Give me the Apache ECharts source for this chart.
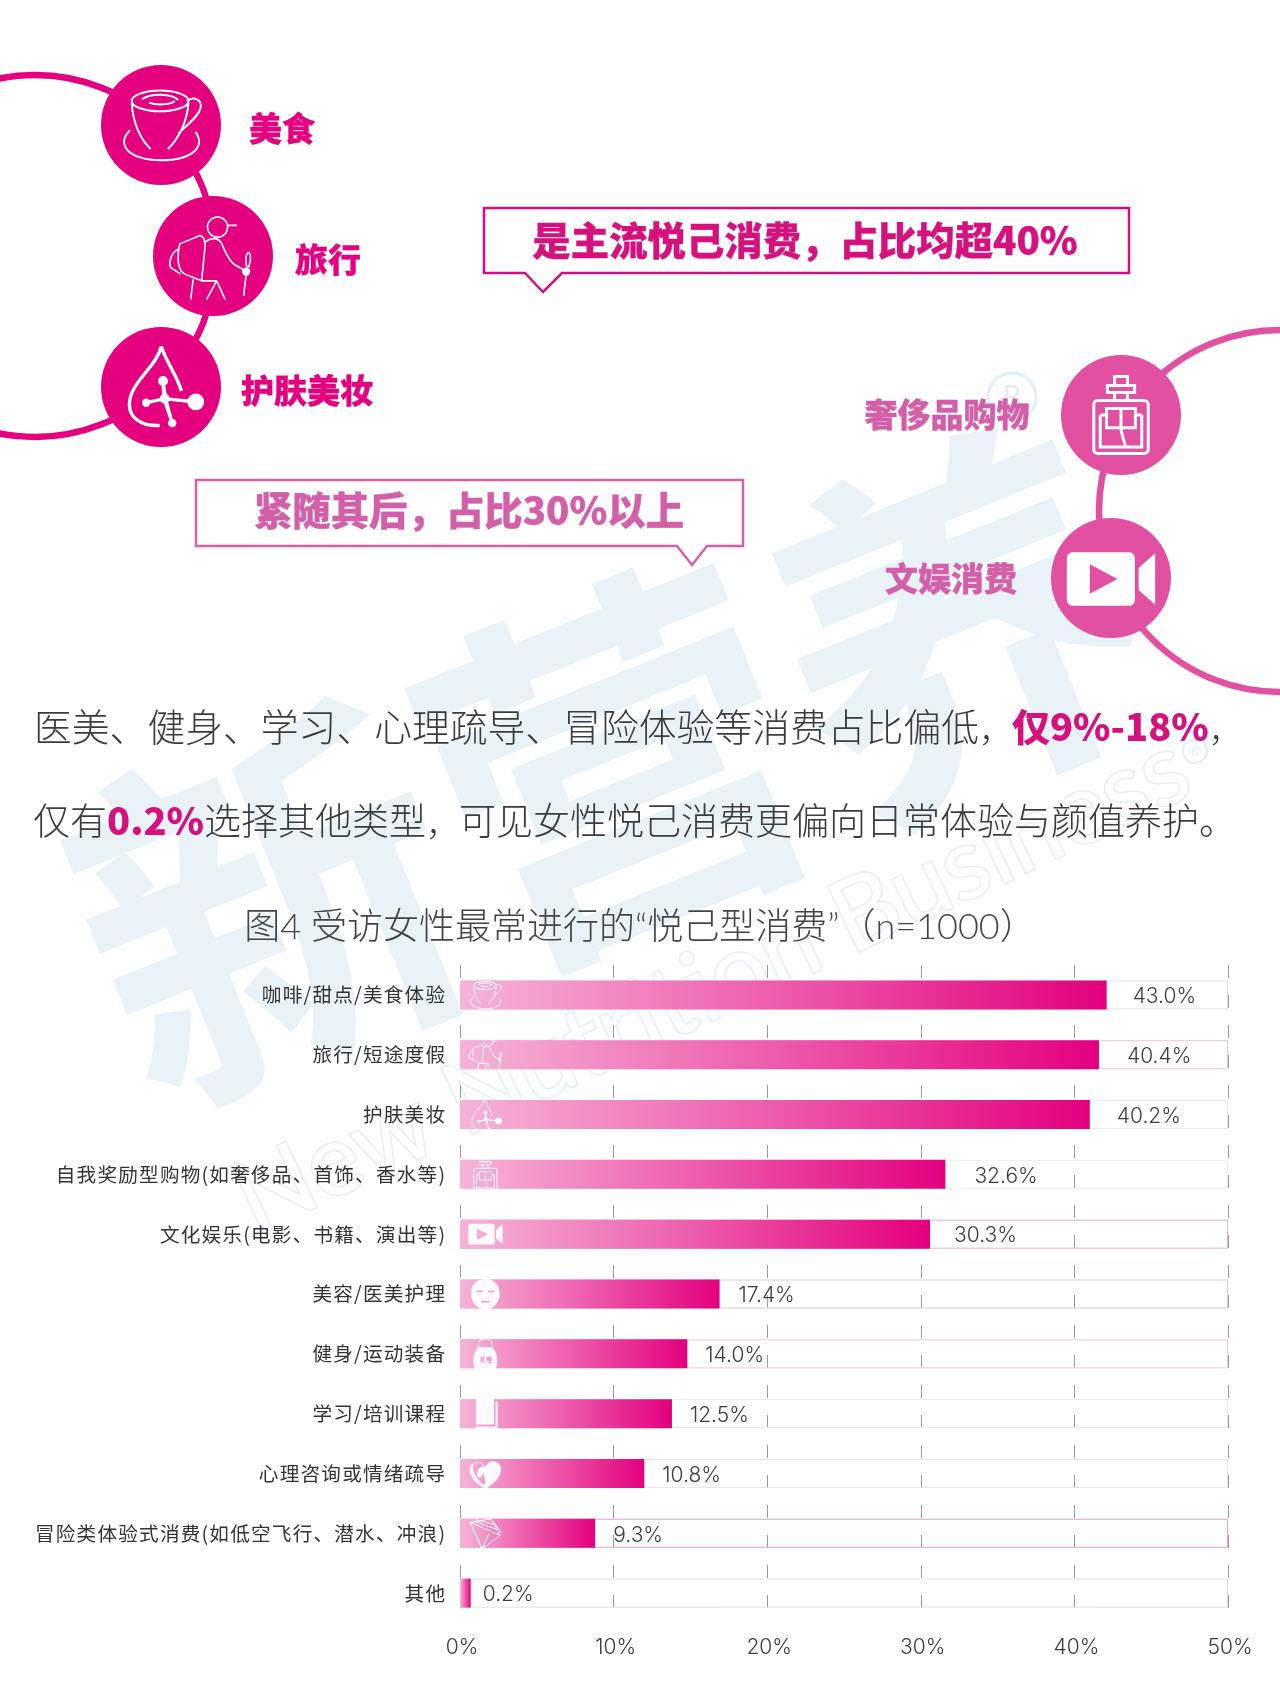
<!DOCTYPE html>
<html><head><meta charset="utf-8">
<style>html,body{margin:0;padding:0;background:#fff}#c{width:1280px;height:1706px}</style>
<script src="https://cdn.jsdelivr.net/npm/echarts@6/dist/echarts.min.js"></script>
</head><body><div id="c"></div>
<script>
// ---------- data ----------
const categories = ['咖啡/甜点/美食体验','旅行/短途度假','护肤美妆','自我奖励型购物(如奢侈品、首饰、香水等)','文化娱乐(电影、书籍、演出等)','美容/医美护理','健身/运动装备','学习/培训课程','心理咨询或情绪疏导','冒险类体验式消费(如低空飞行、潜水、冲浪)','其他'];
// the numbers printed beside each bar
const printedLabels = ['43.0%','40.4%','40.2%','32.6%','30.3%','17.4%','14.0%','12.5%','10.8%','9.3%','0.2%'];
// where each bar actually ends when read against the reference's axis (the picture's bars are not exactly at their printed value)
const barLengths = [42.1,41.6,41.0,31.6,30.6,16.9,14.8,13.8,12.0,8.8,0.7];
const trackValue = 50;
const axisTicks = [0,10,20,30,40,50];
const rowIconIds = ['cup','hiker','drop','perfume','video','mask','kettle','book','heart','fan',null];

// ---------- style lists ----------
const labelGaps = [26,28,27,29,24,19,18,18,18,18,12];
const trackColors = ['#e8dde6','#e6c8df','#eee8ed','#f0ecf0','#dcb6d2','#e0c8da','#e8d2e2','#ece4ea','#ece4ea','#dfa6cc','#e6dce4'];
const PINK='#e4007f', ROSE='#e250a2', ROSE_TEXT='#d35fa8', WM='#e9f2f7';
const SANS='"Noto Sans CJK SC"', LATIN='Inter,"Noto Sans CJK SC"';

// icon drawings on a 100x100 box (decoration, not data)
const BOX='M0 0L0 0M100 100L100 100';
const ICONS={
 cup:{line:'M16 22a33 12 0 1 0 66 0a33 12 0 1 0-66 0M28 20c10-7 34-7 42 1M36 24c8 3 24 3 30-2M16 24C17 48 27 68 38 78M82 24C80 48 70 66 58 78M80 22c9-6 18-1 16 8c-2 10-16 20-26 30M14 56C-2 72 10 90 50 91C88 91 102 74 90 58',fill:''},
 hiker:{line:'M47 12a12 12 0 1 0 24 0a12 12 0 1 0-24 0M70 10H82M14 32L38 22C44 24 44 30 44 36L40 76L20 68C12 64 10 50 14 32ZM13 38C3 42 1 54 3 60L15 68M44 30C52 24 60 24 64 32C68 42 74 52 78 56L92 64M30 74L27 98M40 76L58 76M58 76L46 98M58 76L68 98M96 42C92 44 92 54 94 60L90 94M96 42C100 46 98 54 96 60',fill:'M88 65a5 5 0 1 1 10 0a5 5 0 1 1-10 0Z'},
 drop:{line:'M48 3C42 28 10 46 10 72C10 88 24 98 46 97M48 3C54 22 66 36 72 56',fill:'M44 44a6 6 0 1 1 12 0a6 6 0 1 1-12 0ZM25 70a5 5 0 1 1 10 0a5 5 0 1 1-10 0ZM79 69a10 10 0 1 1 20 0a10 10 0 1 1-20 0ZM56 94a5 5 0 1 1 10 0a5 5 0 1 1-10 0ZM46 65a6 6 0 1 1 12 0a6 6 0 1 1-12 0ZM49 65L48 44L52 44L55 65ZM52 63L52 67L30 72L30 68ZM52 63L89 67L89 71L52 67ZM49 65L55 65L63 94L59 94Z'},
 perfume:{line:'M42 2H58V13H42ZM33 13H67V22H33ZM42 22V32M58 22V32M21 32H79a5 5 0 0 1 5 5V93a5 5 0 0 1-5 5H21a5 5 0 0 1-5-5V37a5 5 0 0 1 5-5ZM24 50V90H76V50M32 42H68V66H32ZM50 42V66C50 74 54 82 56 90M24 50H32M68 50H76',fill:''},
 video:{line:'',fill:'M8 21H70a6 6 0 0 1 6 6V73a6 6 0 0 1-6 6H8a6 6 0 0 1-6-6V27a6 6 0 0 1 6-6ZM27 34V66L57 50ZM80 38L98 22V78L80 62Z'},
 mask:{line:'',fill:'M50 6C78 6 92 24 92 50C92 76 74 95 50 95C26 95 8 76 8 50C8 24 22 6 50 6ZM24 40V45H42V40ZM58 40V45H76V40ZM38 70V75H62V70Z'},
 kettle:{line:'M30 34C26 14 36 6 50 6C64 6 74 14 70 34',fill:'M30 30H70C82 42 88 60 84 86C82 94 78 96 72 96H28C22 96 18 94 16 86C12 60 18 42 30 30ZM36 58V76H40V70L46 76H51L44 68L50 58H45L40 65V58ZM58 58C52 58 52 72 58 72H64V75H56V78H68V58Z'},
 book:{line:'',fill:'M22 4H76V82H22ZM80 14H86V96H22V88H80ZM28 88H78V92H28Z'},
 heart:{line:'M12 30C16 14 40 12 48 32M26 60l12 0l6-14l8 26l6-14l14 0',fill:'M50 30C58 10 90 8 96 32C100 58 76 82 50 96C24 82 0 58 4 32C6 26 10 22 14 20C8 40 22 66 46 84L52 72L44 46L36 58H26C24 40 34 26 50 30Z'},
 fan:{line:'M6 18L66 8L94 56L40 96ZM6 18L94 56M22 10L80 26M14 14L88 40M40 96L60 52M6 18L40 96M72 14L98 50',fill:''}
};
const withBox=p=>BOX+p;
const rowIcon=(kind)=>categories.map((c,i)=>{
  const ic=rowIconIds[i]&&ICONS[rowIconIds[i]];
  if(!ic||!ic[kind])return null;
  return {value:[1.65,i],symbol:'path://'+withBox(ic[kind]),symbolSize:i===4?36:34};
}).filter(Boolean);

// large decorative icons sit on a hidden page-sized grid: id, x, y, size, stroke
const bigIcons=[['cup',161,125,86,2],['hiker',210,259,84,1.6],['drop',163,386,84,3.4],['perfume',1121,415,80,3],['video',1111,579,92,0]];
const bigIcon=(kind)=>bigIcons.filter(b=>ICONS[b[0]][kind]).map(b=>({value:[b[1],b[2]],symbol:'path://'+withBox(ICONS[b[0]][kind]),symbolSize:b[3],
  itemStyle:kind==='line'?{borderWidth:b[4]}:undefined}));

// ---------- decoration built with the graphic component ----------
const T=(text,x,y,size,color,weight,extra)=>Object.assign({type:'text',x,y,silent:true,
  style:{text,fontSize:size,fontFamily:SANS,fontWeight:weight||400,fill:color,stroke:color,lineWidth:0.35,align:'center',verticalAlign:'middle'}},extra||{});
const disc=(cx,cy,color)=>({type:'circle',z:3,shape:{cx,cy,r:60},style:{fill:color}});
const ring=(cx,cy,color)=>({type:'circle',z:2,shape:{cx,cy,r:181},style:{fill:'none',stroke:color,lineWidth:6.5}});
const callout=(pts,color)=>({type:'polygon',z:2,shape:{points:pts},style:{fill:'rgba(255,255,255,0)',stroke:color,lineWidth:2.5}});
const paraRich=(s)=>({a:{fontSize:s,fontFamily:SANS,fontWeight:300,fill:'#3c3c3c'},b:{fontSize:38,fontFamily:SANS,fontWeight:900,fill:'#d6117e'},c:{fontSize:33,fontFamily:SANS,fontWeight:300,fill:'#3c3c3c',verticalAlign:'bottom'}});

const graphics=[
 // watermark
 {type:'text',z:-10,x:615,y:765,rotation:0.385,silent:true,style:{text:'新营养',fontSize:375,fontFamily:SANS,fontWeight:700,fill:WM,align:'center',verticalAlign:'middle'}},
 {type:'text',z:-10,x:712,y:985,rotation:0.44,silent:true,style:{text:'New Nutrition Business',fontSize:100,fontFamily:'Lato',fontWeight:400,fill:'#fff',stroke:'#e4eff5',lineWidth:3,align:'center',verticalAlign:'middle'}},
 {type:'circle',z:-10,shape:{cx:1012,cy:397,r:24},style:{fill:'none',stroke:'#e4eff5',lineWidth:3}},
 {type:'text',z:-10,x:1012,y:397,silent:true,style:{text:'R',fontSize:30,fontFamily:'Lato',fill:'#e4eff5',align:'center',verticalAlign:'middle'}},
 {type:'circle',z:-10,shape:{cx:1195,cy:751,r:12},style:{fill:'none',stroke:'#e4eff5',lineWidth:2}},
 {type:'text',z:-10,x:1195,y:751,silent:true,style:{text:'R',fontSize:14,fontFamily:'Lato',fill:'#e4eff5',align:'center',verticalAlign:'middle'}},
 // rings and discs
 ring(35,256,PINK),ring(1280,511,ROSE),
 disc(161,125,PINK),disc(213,256,PINK),disc(161,387,PINK),disc(1121,415,ROSE),disc(1111,578,ROSE),
 // labels beside the discs
 T('美食',282,128,33,PINK,900),T('旅行',328,259,33,PINK,900),T('护肤美妆',307,390,33,PINK,900),
 T('奢侈品购物',947,414,33,ROSE_TEXT,900),T('文娱消费',951,578,33,ROSE_TEXT,900),
 // callouts
 callout([[484,208],[1129,208],[1129,273],[562,273],[543,292],[525,273],[484,273]],'#cf1080'),
 T('是主流悦己消费，占比均超40%',805,240,38.400,'#d6117e',900),
 callout([[196,480],[743,480],[743,546],[707,546],[692,565],[677,546],[196,546]],'#d660a5'),
 T('紧随其后，占比30%以上',469,510,38.400,ROSE_TEXT,900),
 // paragraph
 {type:'text',x:34,y:727,silent:true,style:{text:'{a|医美、健身、学习、心理疏导、冒险体验等消费占比偏低}{c|，}{b|仅9%-18%}{c|，}',align:'left',verticalAlign:'middle',rich:paraRich(37.8)}},
 {type:'text',x:33,y:821,silent:true,style:{text:'{a|仅有}{b|0.2%}{a|选择其他类型}{c|，}{a|可见女性悦己消费更偏向日常体验与颜值养护。}',align:'left',verticalAlign:'middle',rich:paraRich(37)}},
 // title
 {type:'text',x:640,y:927,silent:true,style:{text:'图4 受访女性最常进行的\u201C悦己型消费\u201D（n=1000）',fontSize:36,fontFamily:'Lato,"Noto Sans CJK SC"',fontWeight:300,fill:'#454545',align:'center',verticalAlign:'middle'}}
];

// ---------- chart ----------
const chart=echarts.init(document.getElementById('c'),null,{renderer:'canvas',width:1280,height:1706});
chart.setOption({
  animation:false,backgroundColor:'#fff',
  graphic:{elements:graphics},
  grid:[{left:460,top:965,width:768,height:658,containLabel:false},{left:0,top:0,width:1280,height:1706,show:false}],
  xAxis:[{type:'value',min:axisTicks[0],max:axisTicks[axisTicks.length-1],interval:10,
    axisLine:{show:false},axisTick:{show:false},
    splitLine:{show:true,lineStyle:{color:'#9a9a9a',width:1,type:[13,17]}},
    axisLabel:{margin:14,padding:[0,0,0,4],formatter:'{value}%',fontFamily:LATIN,fontWeight:300,fontSize:21,color:'#3c3c3c'}},
    {type:'value',gridIndex:1,min:0,max:1280,show:false,splitLine:{show:false}}],
  yAxis:[{type:'category',inverse:true,data:categories,
    axisLine:{show:false},axisTick:{show:false},
    axisLabel:{margin:15,fontFamily:SANS,fontSize:19.600,color:'#333',formatter:v=>Array.from(v).join('\u200A')}},
    {type:'value',gridIndex:1,inverse:true,min:0,max:1706,show:false,splitLine:{show:false}}],
  series:[
    {name:'track',type:'bar',silent:true,barWidth:29,barGap:'-100%',z:1,
     data:categories.map((c,i)=>({value:trackValue,itemStyle:{color:'rgba(255,255,255,0)',borderColor:trackColors[i],borderWidth:1}}))},
    {name:'share',type:'bar',barWidth:29,barGap:'-100%',z:2,
     itemStyle:{color:new echarts.graphic.LinearGradient(0,0,1,0,[{offset:0,color:'#f6b4d7'},{offset:1,color:'#e4007f'}])},
     data:barLengths.map((v,i)=>({value:v,label:{distance:labelGaps[i]}})),
     label:{show:true,position:'right',offset:[0,2],fontFamily:LATIN,fontWeight:300,fontSize:21,color:'#3c3c3c',
       formatter:p=>printedLabels[p.dataIndex]}},
    {name:'iconLines',type:'scatter',silent:true,z:4,itemStyle:{color:'rgba(255,255,255,0)',borderColor:'#fff',borderWidth:1,opacity:.95},data:rowIcon('line')},
    {name:'iconFills',type:'scatter',silent:true,z:4,itemStyle:{color:'#fff',opacity:.95},data:rowIcon('fill')},
    {name:'bigLines',type:'scatter',silent:true,z:6,xAxisIndex:1,yAxisIndex:1,itemStyle:{color:'rgba(255,255,255,0)',borderColor:'#fff',opacity:1},data:bigIcon('line')},
    {name:'bigFills',type:'scatter',silent:true,z:6,xAxisIndex:1,yAxisIndex:1,itemStyle:{color:'#fff',opacity:1},data:bigIcon('fill')}
  ]
});
</script></body></html>
